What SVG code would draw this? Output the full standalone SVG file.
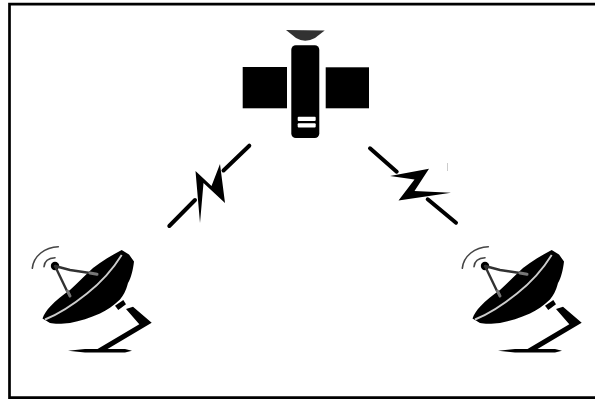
<svg xmlns="http://www.w3.org/2000/svg" xmlns:xlink="http://www.w3.org/1999/xlink" width="595" height="399" viewBox="0 0 595 399">
<style>
.k{fill:#000}
.link{stroke:#000;stroke-width:4;stroke-linecap:round;fill:none}
.arm{stroke:#333;stroke-width:2.400;fill:none;stroke-linecap:round}
.armend{stroke:#777;stroke-width:3;fill:none;stroke-linecap:round}
.arc{stroke:#444;stroke-width:1.600;fill:none;stroke-linecap:round}
</style>
<defs>
<filter id="soft" filterUnits="userSpaceOnUse" x="0" y="0" width="595" height="399"><feGaussianBlur stdDeviation="0.6"/></filter>
<g id="dish">
<path class="k" d="M121.700 250L129 254.500L134 261.500C133 270 131 278 128 283C126 291 123 296 120 299.500C113 306 107 310 100 313.500C90 318 80 321 70 323C62 324 54 324 50 323L42.500 318.500C44 314 47 310 50 306.700C56 300 63 295 70 290C78 283 85 275 93 268C102 261 112 255 121.700 250Z"/>
<path d="M45 319.500Q64 312 87 293.500Q108 277 121.700 255" fill="none" stroke="#ccc" stroke-width="1.900"/>
<path class="arc" d="M32.300 268.300C33.500 256 45 247 58.300 246.700"/>
<path class="arc" d="M44 266.700C44.500 261 49 258 55 257.700"/>
<circle class="k" cx="55" cy="266" r="4.200"/>
<path class="arm" d="M55 266L67 291"/>
<path class="arm" d="M55 266L70 270L90 273"/>
<path class="armend" d="M67.500 291L70 296M90 273L97 274.300"/>
<path class="k" d="M115 305.700L123.300 300L126 304.300L118.300 310Z"/>
<path class="k" d="M126 309L133 306.700L151.700 322.700L105 350.500L95 350.500L139.300 324.300Z"/>
<path class="k" d="M68 350.700L85 349L125 349L132 350.700L125 352.500L85 352.500Z"/>
</g>
</defs>
<rect width="595" height="399" fill="#fff"/>
<g id="frame" fill="none" stroke="#000">
<path d="M595 4.200H9.500V397.700H595" stroke-width="2.700"/>
</g>
<g filter="url(#soft)">
<g id="satellite">
<path d="M286 30L324.700 30.500L315 38Q305 43.500 296 38Z" fill="#333"/>
<rect class="k" x="291.300" y="45.300" width="28" height="92.700" rx="4.500"/>
<rect class="k" x="242.700" y="67" width="44.300" height="41.300"/>
<rect class="k" x="325.700" y="67.300" width="43.300" height="41"/>
<rect x="297.700" y="116.700" width="18" height="4.300" rx="1" fill="#fff"/>
<rect x="297.700" y="123.300" width="18" height="4.300" rx="1" fill="#fff"/>
</g>
<g id="connectors">
<g id="link-left">
<path class="link" d="M249.300 145.700L223.500 170.500"/>
<path class="link" d="M195 200L169.300 226"/>
<path class="k" d="M195.500 171L211.500 186L220 164L225 203L203.500 183L200 223Z"/>
</g>
<g id="link-right">
<path class="link" d="M370 148.300L396.700 171.700"/>
<path class="link" d="M427.700 199.300L456 222.700"/>
<path class="k" d="M390 176L429 168.800L414.500 191L451 192.700L398.500 200.500L414.500 179.500Z"/>
<path d="M447.500 163V171" stroke="#ccc" stroke-width="1"/>
</g>
</g>
<g id="station-left"><use xlink:href="#dish" href="#dish"/></g>
<g id="station-right"><use xlink:href="#dish" href="#dish" x="430"/></g>
</g>
</svg>
